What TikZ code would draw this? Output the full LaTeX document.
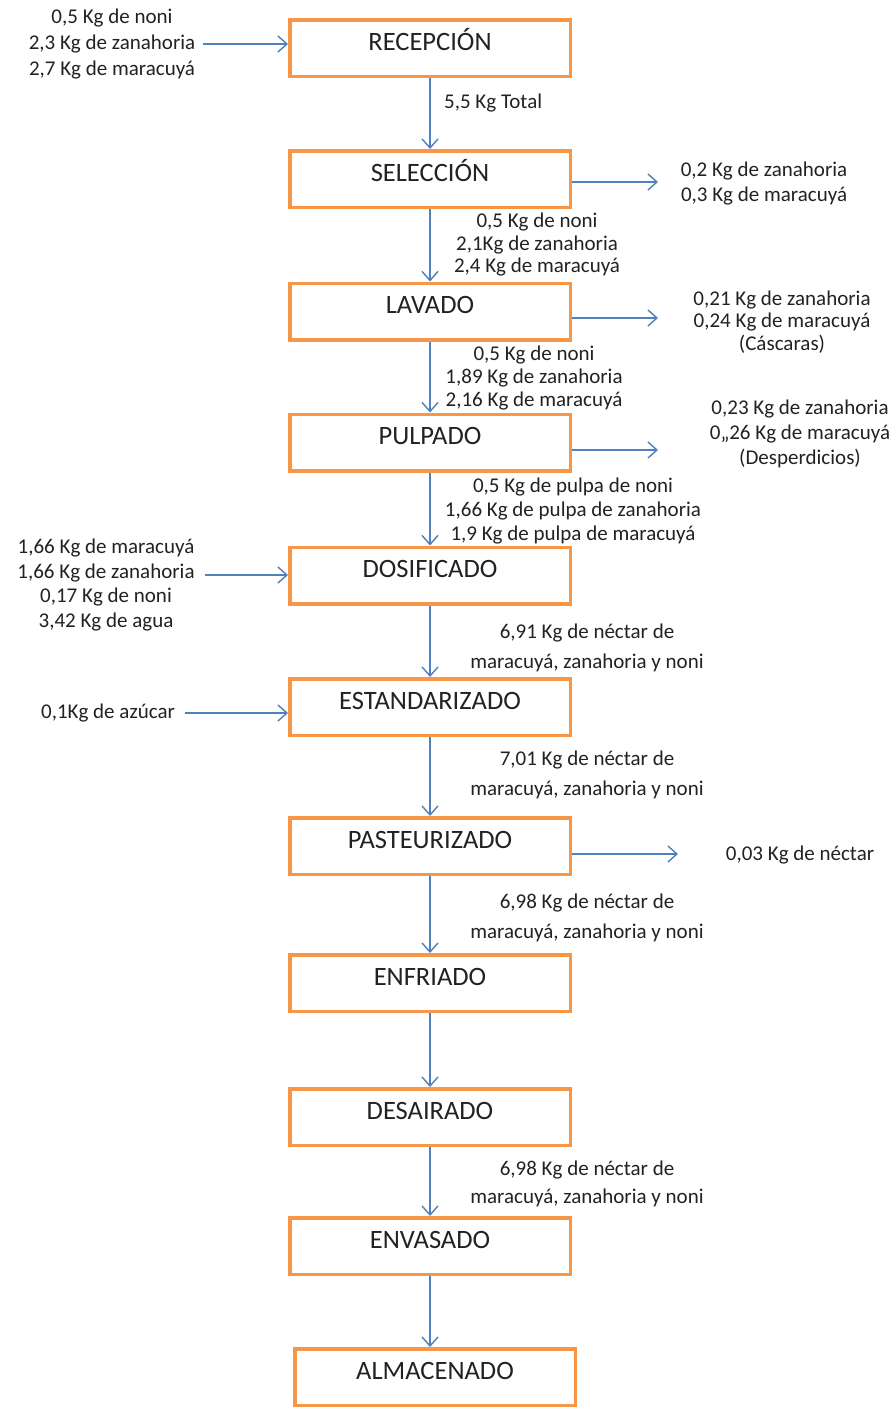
\documentclass[tikz,border=0pt]{standalone}
\usepackage{fontspec}
\setmainfont{Carlito}
\usetikzlibrary{arrows.meta}
\definecolor{boxorange}{HTML}{F79646}
\definecolor{arrowblue}{HTML}{4F81BD}
\definecolor{txt}{HTML}{222222}
\begin{document}
\begin{tikzpicture}[x=1pt,y=-1pt,
  stage/.style={draw=boxorange, line width=3.5pt, fill=white, minimum width=280.5pt, minimum height=56.5pt, inner sep=0pt, font=\fontsize{26.5}{31}\selectfont, text=txt, text height=0.68em, text depth=0.22em},
  lbl/.style={font=\fontsize{21}{#1}\selectfont, text=txt, align=center, inner sep=0pt},
  lbl/.default=25,
  flow/.style={draw=arrowblue, line width=1.4pt, -{Straight Barb[length=9pt,width=16pt,line width=1.4pt]}},
]
\useasboundingbox (0,0) rectangle (895,1408);
\fill[white] (0,0) rectangle (895,1408);

% process boxes
\node[stage] (rec) at (430,48) {RECEPCIÓN};
\node[stage] (sel) at (430,179) {SELECCIÓN};
\node[stage] (lav) at (430,311.5) {LAVADO};
\node[stage] (pul) at (430,442.5) {PULPADO};
\node[stage] (dos) at (430,575.5) {DOSIFICADO};
\node[stage] (est) at (430,707) {ESTANDARIZADO};
\node[stage] (pas) at (430,846) {PASTEURIZADO};
\node[stage] (enf) at (430,983) {ENFRIADO};
\node[stage] (des) at (430,1117) {DESAIRADO};
\node[stage] (env) at (430,1246) {ENVASADO};
\node[stage] (alm) at (435,1377) {ALMACENADO};

% labels
\node[lbl=26] (inrec) at (112,44) {0,5 Kg de noni\\2,3 Kg de zanahoria\\2,7 Kg de maracuyá};
\node[lbl, anchor=west] (tot) at (444,103) {5,5 Kg Total};
\node[lbl=25] (osel) at (764,184) {0,2 Kg de zanahoria\\0,3 Kg de maracuyá};
\node[lbl=22.5] (ssel) at (537,245) {0,5 Kg de noni\\2,1Kg de zanahoria\\2,4 Kg de maracuyá};
\node[lbl=22.5] (olav) at (782,322) {0,21 Kg de zanahoria\\0,24 Kg de maracuyá\\(Cáscaras)};
\node[lbl=23] (slav) at (534,378) {0,5 Kg de noni\\1,89 Kg de zanahoria\\2,16 Kg de maracuyá};
\node[lbl=25] (opul) at (800,434) {0,23 Kg de zanahoria\\0,,26 Kg de maracuyá\\(Desperdicios)};
\node[lbl=24] (spul) at (573,511) {0,5 Kg de pulpa de noni\\1,66 Kg de pulpa de zanahoria\\1,9 Kg de pulpa de maracuyá};
\node[lbl=24.7] (idos) at (106,585) {1,66 Kg de maracuyá\\1,66 Kg de zanahoria\\0,17 Kg de noni\\3,42 Kg de agua};
\node[lbl=30] (sdos) at (587,648) {6,91 Kg de néctar de\\maracuyá, zanahoria y noni};
\node[lbl] (iest) at (108,713) {0,1Kg de azúcar};
\node[lbl=30] (sest) at (587,775) {7,01 Kg de néctar de\\maracuyá, zanahoria y noni};
\node[lbl] (opas) at (800,855) {0,03 Kg de néctar};
\node[lbl=30] (spas) at (587,918) {6,98 Kg de néctar de\\maracuyá, zanahoria y noni};
\node[lbl=28] (sdes) at (587,1184) {6,98 Kg de néctar de\\maracuyá, zanahoria y noni};

% arrow end points
\coordinate (selo) at (658,182);
\coordinate (lavo) at (658,318);
\coordinate (pulo) at (658,450);
\coordinate (paso) at (678,854);
\coordinate (idosa) at (205,575);

% main flow
\draw[flow] (rec) -- (sel);
\draw[flow] (sel) -- (lav);
\draw[flow] (lav) -- (pul);
\draw[flow] (pul) -- (dos);
\draw[flow] (dos) -- (est);
\draw[flow] (est) -- (pas);
\draw[flow] (pas) -- (enf);
\draw[flow] (enf) -- (des);
\draw[flow] (des) -- (env);
\draw[flow] (env.south) -- (env.south |- alm.north);

% inputs
\draw[flow] ([xshift=8pt]inrec.east) -- (rec.west |- inrec.east);
\draw[flow] (idosa) -- (dos.west |- idosa);
\draw[flow] ([xshift=10pt]iest.east) -- (est.west |- iest.east);

% outputs
\draw[flow] (sel.east |- selo) -- (selo);
\draw[flow] (lav.east |- lavo) -- (lavo);
\draw[flow] (pul.east |- pulo) -- (pulo);
\draw[flow] (pas.east |- paso) -- (paso);
\end{tikzpicture}
\end{document}
